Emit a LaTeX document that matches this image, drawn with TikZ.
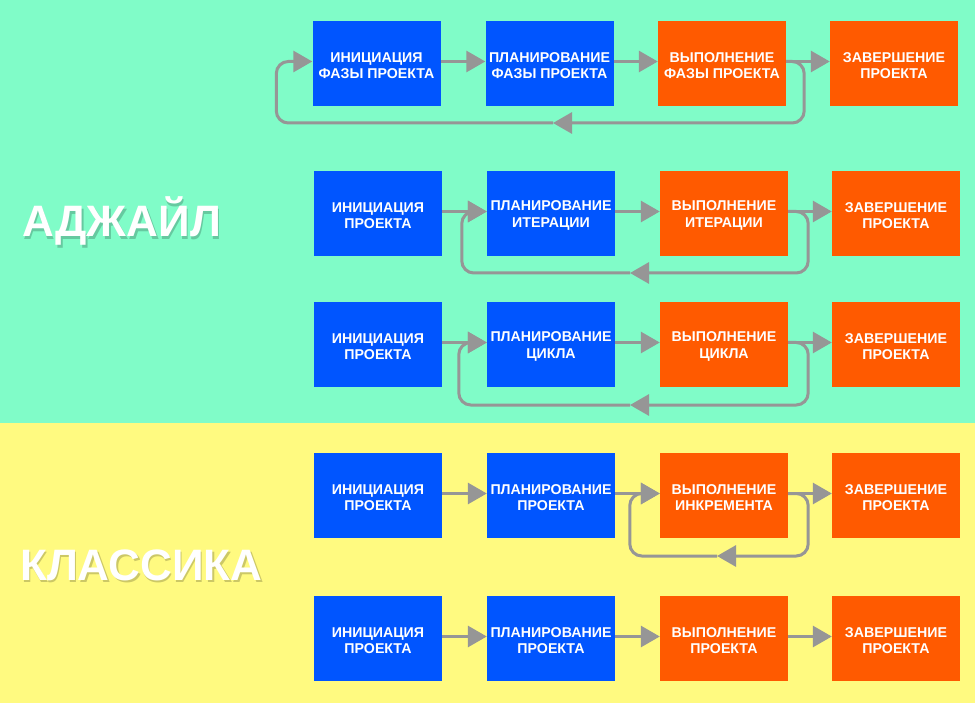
\documentclass[tikz,border=0pt]{standalone}
\usepackage{fontspec}
\setmainfont{Liberation Sans}
\usetikzlibrary{arrows.meta}
\definecolor{mint}{RGB}{128,252,200}
\definecolor{lemon}{RGB}{255,250,128}
\definecolor{boxblue}{RGB}{0,85,255}
\definecolor{boxorange}{RGB}{255,90,0}
\definecolor{linegray}{RGB}{150,150,150}
\tikzset{
  stagetext/.style={inner sep=0pt, align=center, text=white, yshift=-2pt,
    font=\fontsize{14.2}{16.5}\selectfont\bfseries},
  stage/.style={minimum width=128pt, minimum height=85pt, inner sep=0pt,
    label={[stagetext]center:{#1}}},
  bluebox/.style={stage={#1}, fill=boxblue},
  orangebox/.style={stage={#1}, fill=boxorange},
  conn/.style={draw=linegray, line width=3pt, -{Triangle[length=19pt,width=21pt]}, linegray},
  loopline/.style={draw=linegray, line width=3pt, rounded corners=12pt, -{Triangle[length=19pt,width=21pt]}, linegray},
  biglabel/.style={anchor=base west, inner sep=0pt, text=white, font=\fontsize{44}{44}\selectfont\bfseries},
  bigshadow/.style={anchor=base west, inner sep=0pt, text=black, opacity=0.2, font=\fontsize{44}{44}\selectfont\bfseries}
}
\begin{document}
\begin{tikzpicture}[x=1pt,y=-1pt]
\useasboundingbox (0,0) rectangle (975,703);
\fill[mint] (0,0) rectangle (975,423);
\fill[lemon] (0,423) rectangle (975,703);

% big labels
\node[bigshadow] (agsh) at (23.5,239.5) {АДЖАЙЛ};
\node[biglabel] (ag) at (22,237) {АДЖАЙЛ};
\node[bigshadow] (klsh) at (21.5,582.5) {КЛАССИКА};
\node[biglabel] (kl) at (20,580) {КЛАССИКА};

% row 1
\node[bluebox={ИНИЦИАЦИЯ\\ФАЗЫ ПРОЕКТА}] (r1c1) at (376.5,63.5) {};
\node[bluebox={ПЛАНИРОВАНИЕ\\ФАЗЫ ПРОЕКТА}] (r1c2) at (549.5,63.5) {};
\node[orangebox={ВЫПОЛНЕНИЕ\\ФАЗЫ ПРОЕКТА}] (r1c3) at (722,63.5) {};
\node[orangebox={ЗАВЕРШЕНИЕ\\ПРОЕКТА}] (r1c4) at (894,63.5) {};
% row 2
\node[bluebox={ИНИЦИАЦИЯ\\ПРОЕКТА}] (r2c1) at (378,213.5) {};
\node[bluebox={ПЛАНИРОВАНИЕ\\ИТЕРАЦИИ}] (r2c2) at (551,213.5) {};
\node[orangebox={ВЫПОЛНЕНИЕ\\ИТЕРАЦИИ}] (r2c3) at (724,213.5) {};
\node[orangebox={ЗАВЕРШЕНИЕ\\ПРОЕКТА}] (r2c4) at (896,213.5) {};
% row 3
\node[bluebox={ИНИЦИАЦИЯ\\ПРОЕКТА}] (r3c1) at (378,344.5) {};
\node[bluebox={ПЛАНИРОВАНИЕ\\ЦИКЛА}] (r3c2) at (551,344.5) {};
\node[orangebox={ВЫПОЛНЕНИЕ\\ЦИКЛА}] (r3c3) at (724,344.5) {};
\node[orangebox={ЗАВЕРШЕНИЕ\\ПРОЕКТА}] (r3c4) at (896,344.5) {};
% row 4
\node[bluebox={ИНИЦИАЦИЯ\\ПРОЕКТА}] (r4c1) at (378,495.5) {};
\node[bluebox={ПЛАНИРОВАНИЕ\\ПРОЕКТА}] (r4c2) at (551,495.5) {};
\node[orangebox={ВЫПОЛНЕНИЕ\\ИНКРЕМЕНТА}] (r4c3) at (724,495.5) {};
\node[orangebox={ЗАВЕРШЕНИЕ\\ПРОЕКТА}] (r4c4) at (896,495.5) {};
% row 5
\node[bluebox={ИНИЦИАЦИЯ\\ПРОЕКТА}] (r5c1) at (378,638.5) {};
\node[bluebox={ПЛАНИРОВАНИЕ\\ПРОЕКТА}] (r5c2) at (551,638.5) {};
\node[orangebox={ВЫПОЛНЕНИЕ\\ПРОЕКТА}] (r5c3) at (724,638.5) {};
\node[orangebox={ЗАВЕРШЕНИЕ\\ПРОЕКТА}] (r5c4) at (896,638.5) {};

% straight connectors
\foreach \r in {1,...,5}{
  \draw[conn] ([yshift=2pt]r\r c1.east) -- ([yshift=2pt]r\r c2.west);
  \draw[conn] ([yshift=2pt]r\r c2.east) -- ([yshift=2pt]r\r c3.west);
  \draw[conn] ([yshift=2pt]r\r c3.east) -- ([yshift=2pt]r\r c4.west);
}

% loop coordinates (arrow tips on the return lines)
\coordinate (m1) at (553,123);
\coordinate (m2) at (630,273);
\coordinate (m3) at (630,405);
\coordinate (m4) at (717,556);

% row 1 loop
\draw[loopline] ([yshift=2pt]r1c3.east) -- ++(18,0) |- (m1);
\draw[loopline] (m1) -| ([xshift=-36pt,yshift=2pt]r1c1.west) -- ([yshift=2pt]r1c1.west);
% row 2 loop
\draw[loopline] ([yshift=2pt]r2c3.east) -- ++(20,0) |- (m2);
\draw[loopline] (m2) -| ([xshift=-25pt,yshift=2pt]r2c2.west) -- ([yshift=2pt]r2c2.west);
% row 3 loop
\draw[loopline] ([yshift=2pt]r3c3.east) -- ++(20,0) |- (m3);
\draw[loopline] (m3) -| ([xshift=-28pt,yshift=2pt]r3c2.west) -- ([yshift=2pt]r3c2.west);
% row 4 loop
\draw[loopline] ([yshift=2pt]r4c3.east) -- ++(20,0) |- (m4);
\draw[loopline] (m4) -| ([xshift=-30pt,yshift=2pt]r4c3.west) -- ([yshift=2pt]r4c3.west);
\end{tikzpicture}
\end{document}
